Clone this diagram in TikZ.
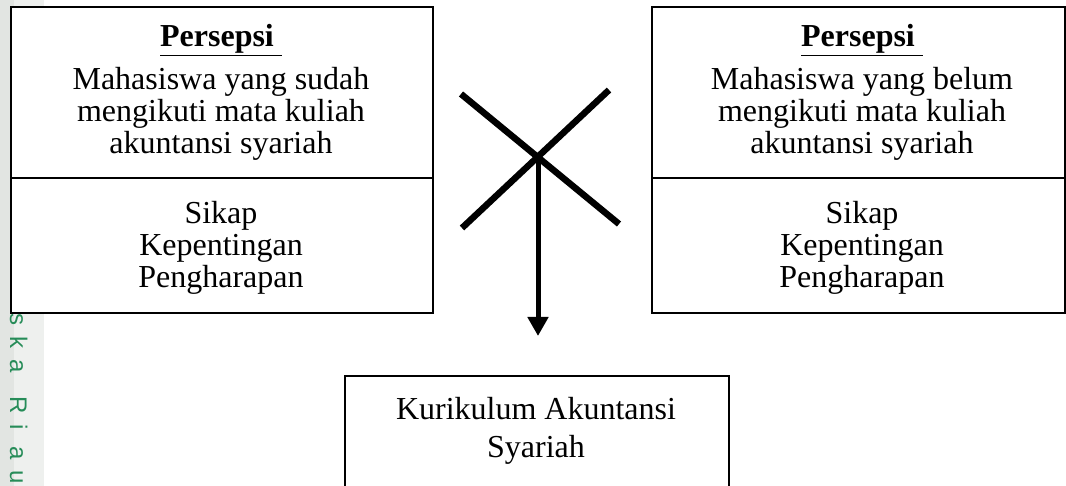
\documentclass[tikz,border=0pt]{standalone}
\usepackage{fontspec}
\setmainfont{Liberation Serif}
\newfontfamily\wmfont{Liberation Sans}
\usetikzlibrary{arrows.meta}
\definecolor{wmgreen}{RGB}{38,140,88}
\definecolor{wmgray}{RGB}{226,229,226}
\definecolor{wmlight}{RGB}{238,240,238}
\begin{document}
\begin{tikzpicture}[x=1pt,y=1pt,
  box/.style={draw, fill=white, line width=2pt, inner sep=0pt, anchor=north west},
  txt/.style={font=\fontsize{32}{32}\selectfont, align=center, inner sep=0pt},
  txtwide/.style={font=\fontsize{32}{38}\selectfont, align=center, inner sep=0pt},
  crossline/.style={line width=6.5pt},
  mainarrow/.style={line width=5pt, -{Triangle[width=20pt,length=19pt]}},
  divider/.style={line width=2pt}
]
\useasboundingbox (0,0) rectangle (1066,486);
% left margin strip and watermark text
\fill[wmlight] (0,0) rectangle (44,486);
\fill[wmgray] (0,0) rectangle (14,486);
\node[rotate=-90, anchor=base west, inner sep=0pt, text=wmgreen,
      font=\wmfont\fontsize{24}{24}\selectfont] (wm) at (10,173)
  {s\hspace{11pt}k\hspace{11pt}a\hspace{24pt}R\hspace{11pt}i\hspace{16pt}a\hspace{11pt}u};

% boxes
\node[box, minimum width=422pt, minimum height=306pt] (L) at (10,480) {};
\node[box, minimum width=413pt, minimum height=306pt] (R) at (651,480) {};
\node[box, minimum width=384pt, minimum height=160pt] (K) at (344,111) {};

% dividers
\coordinate (ldiv) at (0,308);
\draw[divider] (L.west |- ldiv) -- (L.east |- ldiv);
\draw[divider] (R.west |- ldiv) -- (R.east |- ldiv);

% left box texts
\node[txt, anchor=base, font=\fontsize{32}{32}\selectfont\bfseries] (Lt) at (221,439) {\underline{Persepsi\ }};
\node[txt] (Lm) at (221,372.5) {Mahasiswa yang sudah\\mengikuti mata kuliah\\akuntansi syariah};
\node[txt] (Ls) at (221,238) {Sikap\\Kepentingan\\Pengharapan};

% right box texts
\node[txt, anchor=base, font=\fontsize{32}{32}\selectfont\bfseries] (Rt) at (862,439) {\underline{Persepsi\ }};
\node[txt] (Rm) at (862,372.5) {Mahasiswa yang belum\\mengikuti mata kuliah\\akuntansi syariah};
\node[txt] (Rs) at (862,238) {Sikap\\Kepentingan\\Pengharapan};

% bottom box text
\node[txtwide] (Kt) at (536,55) {Kurikulum Akuntansi\\Syariah};

% cross and arrow
\coordinate (x1a) at (461,392);
\coordinate (x1b) at (619,262);
\coordinate (x2a) at (609,396);
\coordinate (x2b) at (462,258);
\coordinate (cx) at (538,330);
\coordinate (tip) at (538,150);
\draw[crossline] (x1a) -- (x1b);
\draw[crossline] (x2a) -- (x2b);
\draw[mainarrow] (cx) -- (tip);
\end{tikzpicture}
\end{document}
